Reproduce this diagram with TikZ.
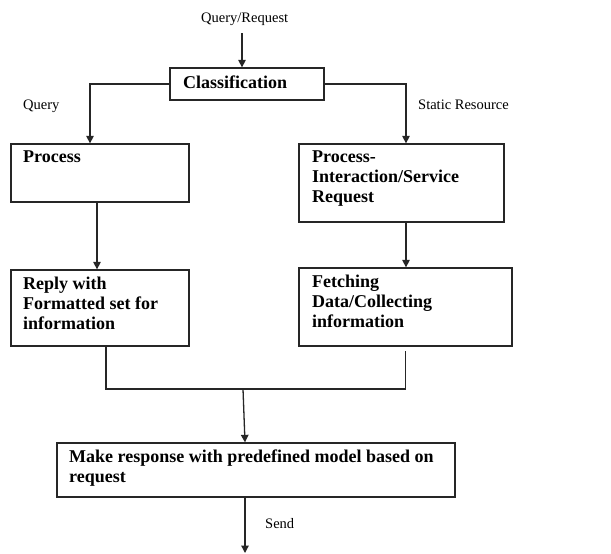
\documentclass[tikz,border=0pt]{standalone}
\usepackage{fontspec}
\setmainfont{Liberation Serif}
\usetikzlibrary{arrows.meta}
\begin{document}
\begin{tikzpicture}[x=1pt,y=-1pt,
  box/.style={draw=black!85,line width=1.3pt,inner sep=0,rectangle},
  btxt/.style={anchor=north west,inner sep=0,align=left,font=\fontsize{18}{20}\selectfont\bfseries},
  lbl/.style={anchor=base west,inner sep=0,font=\fontsize{14.5}{16}\selectfont},
  conn/.style={line width=1.3pt,draw=black!85},
  arr/.style={conn,-{Triangle[length=7.5pt,width=7.5pt]}}]
\useasboundingbox (0,0) rectangle (611,554);
% boxes
\node[box,minimum width=154pt,minimum height=32pt] (cls) at (247,84) {};
\node[box,minimum width=178pt,minimum height=58pt] (proc) at (100,173) {};
\node[box,minimum width=205pt,minimum height=78pt] (svc) at (401.5,183) {};
\node[box,minimum width=178pt,minimum height=76pt] (reply) at (100,308) {};
\node[box,minimum width=213pt,minimum height=78pt] (fetch) at (405.5,307) {};
\node[box,minimum width=398pt,minimum height=54pt] (resp) at (256,470) {};
% box texts
\node[btxt] (clst) at (183,76) {Classification};
\node[btxt] (proct) at (23,151) {Process};
\node[btxt] (svct) at (312,151) {Process-\\Interaction/Service\\Request};
\node[btxt] (replyt) at (23,277) {Reply with\\Formatted set for\\information};
\node[btxt] (fetcht) at (312,275) {Fetching\\Data/Collecting\\information};
\node[btxt] (respt) at (69,450) {Make response with predefined model based on\\request};
% labels
\node[lbl] (qr) at (201,22) {Query/Request};
\node[lbl] (ql) at (23,109) {Query};
\node[lbl] (sr) at (418,109) {Static Resource};
\node[lbl] (sd) at (265,528) {Send};
% coordinates
\coordinate (top) at (242,33);
\coordinate (m) at (243,389);
\coordinate (end) at (245,553);
% connectors
\draw[arr] (top) -- (top |- cls.north);
\draw[arr] (cls.west) -| ([xshift=-10pt]proc.north);
\draw[arr] (cls.east) -| ([xshift=4.5pt]svc.north);
\draw[arr] ([xshift=-3pt]proc.south) -- ([xshift=-3pt]reply.north);
\draw[arr] ([xshift=4.5pt]svc.south) -- ([xshift=4.5pt]svc.south |- fetch.north);
\draw[conn] ([xshift=6pt]reply.south) |- (m) -| ([yshift=-4pt]fetch.south);
\draw[arr] (m) -- ([xshift=-11pt]resp.north);
\draw[arr] ([xshift=-11pt]resp.south) -- (end);
\end{tikzpicture}
\end{document}
